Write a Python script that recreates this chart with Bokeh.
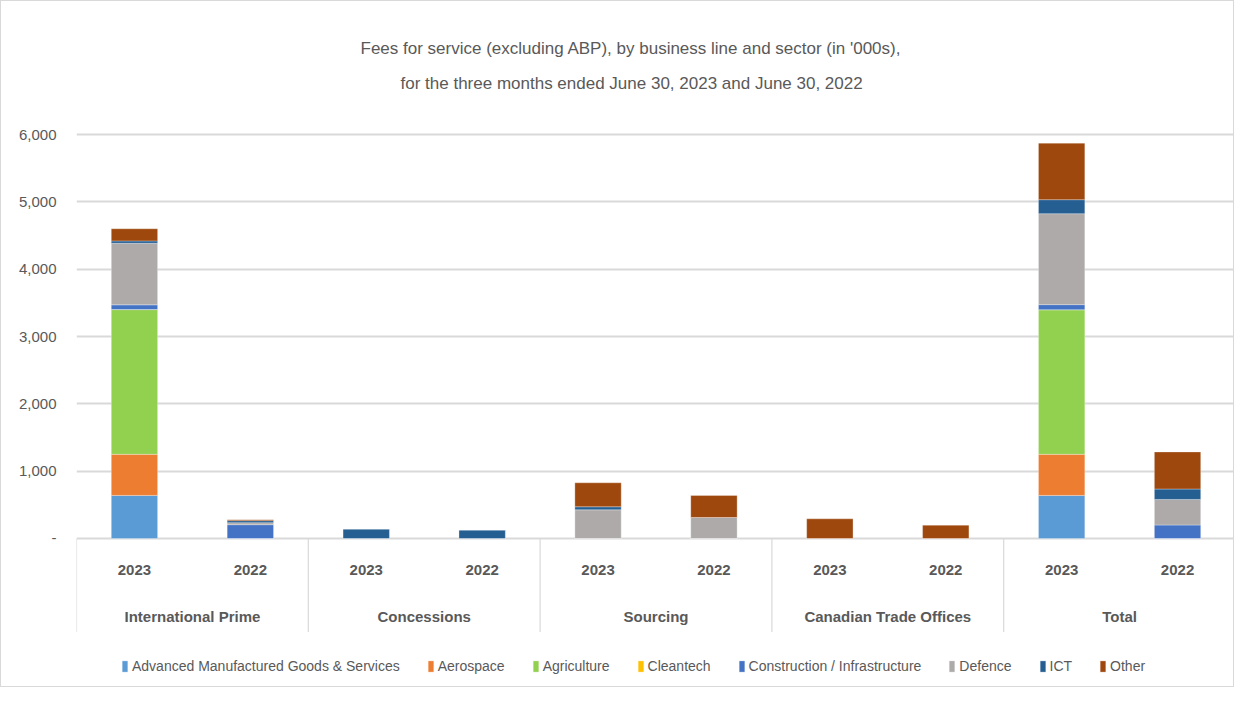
from bokeh.plotting import figure
from bokeh.models import (ColumnDataSource, FactorRange, Range1d, FixedTicker,
                          Legend, LegendItem, Title)
from bokeh.core.properties import value
from bokeh.embed import file_html
from bokeh.resources import INLINE

# ---------------- data ----------------
groups = ["International Prime", "Concessions", "Sourcing",
          "Canadian Trade Offices", "Total"]
years = ["2023", "2022"]

series = ["Advanced Manufactured Goods & Services", "Aerospace", "Agriculture",
          "Cleantech", "Construction / Infrastructure", "Defence", "ICT", "Other"]
colors = ["#5B9BD5", "#ED7D31", "#92D050", "#FFC000", "#4472C4", "#AEAAAA",
          "#255E91", "#9E480E"]

# order: IP23, IP22, Con23, Con22, Src23, Src22, CTO23, CTO22, Tot23, Tot22
amg          = [640, 0, 0, 0, 0, 0, 0, 0, 640, 0]
aerospace    = [610, 0, 0, 0, 0, 0, 0, 0, 610, 0]
agriculture  = [2150, 0, 0, 0, 0, 0, 0, 0, 2148, 0]
cleantech    = [0, 0, 0, 0, 0, 0, 0, 0, 0, 0]
construction = [70, 205, 0, 0, 0, 0, 0, 0, 75, 200]
defence      = [915, 30, 0, 0, 426, 312, 0, 0, 1351, 380]
ict          = [35, 30, 140, 125, 45, 0, 0, 0, 208, 155]
other        = [180, 15, 0, 0, 356, 327, 292, 198, 840, 550]

y_ticks = [0, 1000, 2000, 3000, 4000, 5000, 6000]
y_tick_labels = ["-", "1,000", "2,000", "3,000", "4,000", "5,000", "6,000"]

title_lines = ["Fees for service (excluding ABP), by business line and sector (in '000s),",
               "for the three months ended June 30, 2023 and June 30, 2022"]

# ---------------- build ----------------
FONT = "Liberation Sans"
TXT = "#595959"

factors = [(g, y) for g in groups for y in years]
cols = ["amg", "aero", "agri", "clean", "constr", "def", "ict", "other"]
data = dict(x=factors, amg=amg, aero=aerospace, agri=agriculture, clean=cleantech,
            constr=construction, ict=ict, other=other)
data["def"] = defence
src = ColumnDataSource(data)

x_range = FactorRange(*factors, factor_padding=0, group_padding=0,
                      subgroup_padding=0, range_padding=0)

Y_MIN = -2228
p = figure(width=1234, height=687, x_range=x_range, y_range=Range1d(Y_MIN, 6119),
           output_backend="svg", toolbar_location=None, x_axis_location=None,
           min_border_left=75, min_border_right=0, min_border_top=125,
           min_border_bottom=0)
p.outline_line_color = None
p.background_fill_color = "white"
p.border_fill_color = "white"
p.styles = {"border": "1px solid #d9d9d9"}

renderers = p.vbar_stack(cols, x="x", width=0.4, source=src, color=colors,
                         line_color="white", line_width=0.6, line_alpha=0.5)

# y axis
p.yaxis.ticker = FixedTicker(ticks=y_ticks)
p.yaxis.major_label_overrides = {t: l for t, l in zip(y_ticks, y_tick_labels)}
p.yaxis.axis_line_color = None
p.yaxis.major_tick_line_color = None
p.yaxis.minor_tick_line_color = None
p.yaxis.major_label_standoff = 14
p.yaxis.major_label_text_font = FONT
p.yaxis.major_label_text_font_size = "15px"
p.yaxis.major_label_text_color = TXT

p.xgrid.visible = False
p.ygrid.ticker = FixedTicker(ticks=y_ticks)
p.ygrid.grid_line_color = "#d9d9d9"
p.ygrid.grid_line_width = 2

# category axis drawn below zero
n = len(groups)
seps = list(range(0, 2 * n + 1, 2))
p.segment(x0=seps, y0=[0] * len(seps), x1=seps, y1=[-1390] * len(seps),
          line_color="#d9d9d9", line_width=1.2)
p.text(x=factors, y=[-475] * len(factors), text=[f[1] for f in factors],
       text_font=value(FONT), text_font_style="bold", text_font_size="15px",
       text_color=TXT, text_align="center", text_baseline="middle")
p.text(x=groups, y=[-1158] * n, text=groups,
       text_font=value(FONT), text_font_style="bold", text_font_size="15px",
       text_color=TXT, text_align="center", text_baseline="middle")

# titles (first added sits closest to the plot)
spacer = Title(text=" ", text_font=FONT, text_font_size="17px", standoff=0)
t2 = Title(text=title_lines[1], align="left", text_font=FONT,
           text_font_size="17px", text_font_style="normal", text_color=TXT,
           offset=324, standoff=26)
t1 = Title(text=title_lines[0], align="left", text_font=FONT,
           text_font_size="17px", text_font_style="normal", text_color=TXT,
           offset=284, standoff=2)
p.add_layout(spacer, "above")
p.add_layout(t2, "above")
p.add_layout(t1, "above")

# legend inside the frame, under the category labels
items = [LegendItem(label=s, renderers=[r]) for s, r in zip(series, renderers)]
legend = Legend(items=items, orientation="horizontal", location=(45, 14),
                glyph_width=7, glyph_height=14, label_standoff=4, spacing=27,
                label_text_font=FONT, label_text_font_size="14px",
                label_text_color=TXT, border_line_color=None,
                background_fill_alpha=0, padding=4, margin=0)
p.add_layout(legend, "center")

open("out.html", "w").write(file_html(p, INLINE))
